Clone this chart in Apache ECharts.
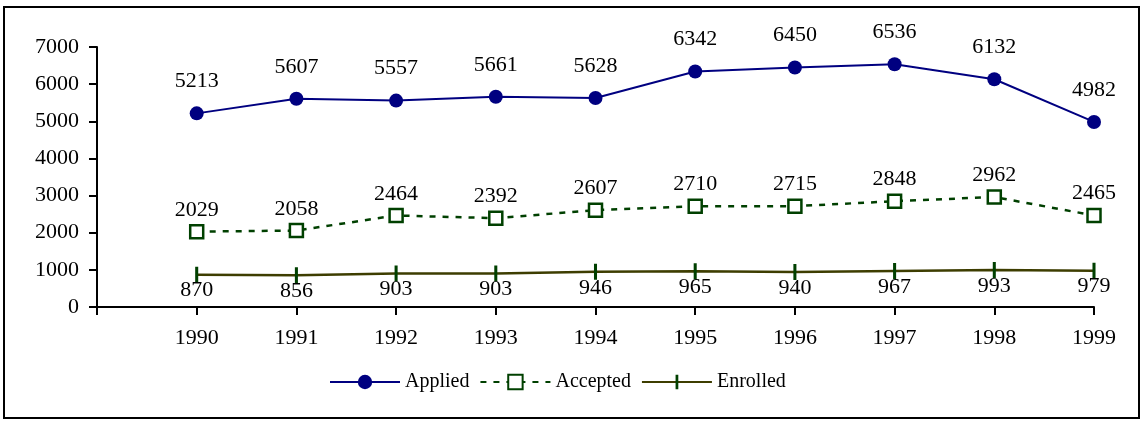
<!DOCTYPE html>
<html>
<head>
<meta charset="utf-8">
<script src="https://cdn.jsdelivr.net/npm/echarts@6/dist/echarts.min.js"></script>
<style>
  html, body { margin: 0; padding: 0; background: #fff; }
  #chart { width: 1142px; height: 422px; }
</style>
</head>
<body>
<div id="chart"></div>
<script>
// data
const years = [1990, 1991, 1992, 1993, 1994, 1995, 1996, 1997, 1998, 1999];
const applied = [5213, 5607, 5557, 5661, 5628, 6342, 6450, 6536, 6132, 4982];
const accepted = [2029, 2058, 2464, 2392, 2607, 2710, 2715, 2848, 2962, 2465];
const enrolled = [870, 856, 903, 903, 946, 965, 940, 967, 993, 979];

const font = "'Liberation Serif', 'Times New Roman', serif";

const pairs = vals => years.map((y, i) => [y, vals[i]]);

// vertical bar marker inside a square box (tiny corner specks fix the box size)
const barMark = "path://M0,0L0.01,0L0,0.01Z M20,20L19.99,20L20,19.99Z M8.1,0h3.8v20h-3.8z";

const chart = echarts.init(document.getElementById("chart"));

chart.setOption({
    animation: false,
    textStyle: { fontFamily: font },
    graphic: [{
        type: "rect",
        shape: { x: 4, y: 7, width: 1135, height: 411 },
        style: { fill: "none", stroke: "#000", lineWidth: 2 }
    }],
    grid: { left: 97, top: 47, right: 48, bottom: 115 },
    xAxis: {
        type: "value",
        min: 1989,
        max: 1999,
        interval: 1,
        axisLine: { lineStyle: { color: "#000", width: 2 } },
        axisTick: { length: 8, lineStyle: { color: "#000", width: 2 } },
        splitLine: { show: false },
        axisLabel: {
            margin: 20,
            fontSize: 22,
            color: "#000",
            fontFamily: font,
            formatter: v => (v === 1989 ? "" : String(v))
        }
    },
    yAxis: {
        type: "value",
        min: 0,
        max: 7000,
        interval: 1000,
        axisLine: { show: true, lineStyle: { color: "#000", width: 2 } },
        axisTick: { show: true, length: 8, lineStyle: { color: "#000", width: 2 } },
        splitLine: { show: false },
        axisLabel: {
            margin: 18, fontSize: 22, color: "#000", fontFamily: font,
            formatter: v => String(v)
        }
    },
    legend: {
        left: 324,
        top: 367,
        itemWidth: 70,
        itemHeight: 18,
        itemGap: 10,
        textStyle: { fontSize: 20, color: "#000", fontFamily: font },
        data: ["Applied", "Accepted", "Enrolled"]
    },
    series: [
        {
            name: "Applied",
            type: "line",
            data: pairs(applied),
            symbol: "circle",
            symbolSize: 14,
            lineStyle: { color: "#000080", width: 2 },
            itemStyle: { color: "#000080" },
            label: {
                show: true, position: "top", distance: 14,
                fontSize: 22, color: "#000", fontFamily: font
            }
        },
        {
            name: "Accepted",
            type: "line",
            data: pairs(accepted),
            symbol: "rect",
            symbolSize: 13,
            lineStyle: { color: "#004000", width: 2.5, type: [6, 7] },
            itemStyle: { color: "#fff", borderColor: "#004000", borderWidth: 2.5 },
            label: {
                show: true, position: "top", distance: 3,
                fontSize: 22, color: "#000", fontFamily: font
            }
        },
        {
            name: "Enrolled",
            type: "line",
            data: pairs(enrolled),
            symbol: barMark,
            symbolSize: 16,
            lineStyle: { color: "#3d3d00", width: 2.5 },
            itemStyle: { color: "#004000" },
            label: {
                show: true, position: "bottom", distance: -3,
                fontSize: 22, color: "#000", fontFamily: font
            }
        }
    ]
});
</script>
</body>
</html>
